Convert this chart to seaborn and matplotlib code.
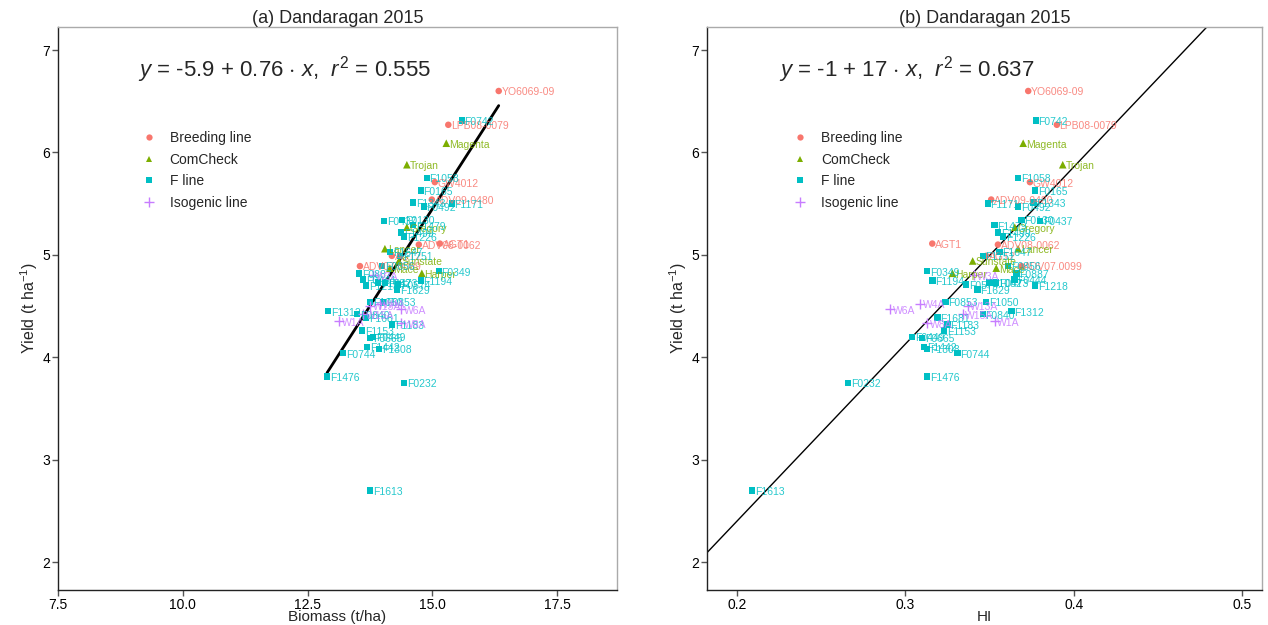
import numpy as np
import pandas as pd
import matplotlib
matplotlib.use("Agg")
import matplotlib.pyplot as plt
import seaborn as sns
from matplotlib.lines import Line2D

# ---------------- data ----------------
genotype = ["YO6069-09", "LPB08-0079", "GW4012", "ADV09-0480", "ADV08-0062", "AGT1", "AGT2", "ADV07.0099",
            "Magenta", "Trojan", "Gregory", "Lancer", "Sunstate", "Mace", "Harper",
            "F0742", "F1058", "F0165", "F1171", "F1343", "F0492", "F0130", "F0437", "F1479", "F1499",
            "F1226", "F1647", "F1751", "F0856", "F0887", "F0444", "F0349", "F1194", "F1218", "F0574",
            "F1629", "F1082", "F0473", "F1050", "F0853", "F1312", "F0840", "F1681", "F1183", "F1153",
            "F0449", "F0665", "F1442", "F1308", "F0744", "F1476", "F0232", "F1613",
            "W1A", "W3A", "W4A", "W6A", "W8A", "W13A", "W15A"]
group = (["Breeding line"] * 8 + ["ComCheck"] * 7 + ["F line"] * 38 + ["Isogenic line"] * 7)
biomass = [16.33, 15.32, 15.05, 14.99, 14.73, 15.15, 14.19, 13.55,
           15.28, 14.49, 14.49, 14.05, 14.33, 14.15, 14.79,
           15.59, 14.89, 14.77, 15.39, 14.61, 14.83, 14.39, 14.03, 14.61, 14.37,
           14.43, 14.15, 14.35, 13.99, 13.53, 13.61, 15.13, 14.77, 13.67, 14.31,
           14.29, 13.91, 14.05, 13.75, 14.01, 12.91, 13.49, 13.67, 14.19, 13.59,
           13.81, 13.75, 13.69, 13.93, 13.21, 12.89, 14.43, 13.75,
           13.13, 13.81, 13.95, 14.37, 14.37, 13.75, 13.61]
hi = [0.373, 0.390, 0.374, 0.351, 0.355, 0.316, 0.348, 0.369,
      0.370, 0.3935, 0.365, 0.367, 0.340, 0.354, 0.328,
      0.3775, 0.367, 0.377, 0.349, 0.376, 0.367, 0.369, 0.380, 0.353, 0.355,
      0.358, 0.356, 0.346, 0.361, 0.366, 0.365, 0.313, 0.316, 0.377, 0.336,
      0.343, 0.350, 0.354, 0.348, 0.324, 0.363, 0.346, 0.319, 0.325, 0.323,
      0.304, 0.310, 0.311, 0.313, 0.331, 0.313, 0.266, 0.209,
      0.353, 0.341, 0.309, 0.291, 0.313, 0.337, 0.334]
yield_t = [6.60, 6.27, 5.71, 5.54, 5.10, 5.11, 4.99, 4.89,
           6.09, 5.88, 5.27, 5.06, 4.94, 4.87, 4.82,
           6.31, 5.75, 5.63, 5.50, 5.51, 5.47, 5.34, 5.33, 5.29, 5.22,
           5.18, 5.03, 4.99, 4.89, 4.82, 4.76, 4.84, 4.75, 4.70, 4.71,
           4.66, 4.73, 4.73, 4.54, 4.54, 4.45, 4.42, 4.39, 4.32, 4.26,
           4.20, 4.19, 4.10, 4.08, 4.04, 3.81, 3.75, 2.70,
           4.35, 4.80, 4.52, 4.47, 4.33, 4.50, 4.42]

groups = ["Breeding line", "ComCheck", "F line", "Isogenic line"]
colors = ["#F8766D", "#7CAE00", "#00BFC4", "#C77CFF"]
titles = ["(a) Dandaragan 2015", "(b) Dandaragan 2015"]
equations = [r"$y$ = -5.9 + 0.76 $\cdot$ $x$,  $r^2$ = 0.555",
             r"$y$ = -1 + 17 $\cdot$ $x$,  $r^2$ = 0.637"]
xlabels = ["Biomass (t/ha)", "HI"]

df = pd.DataFrame({"Genotype": genotype, "Group": group, "Biomass": biomass,
                   "HI": hi, "Yield": yield_t})

# ---------------- style ----------------
sns.set_style("white")
plt.rcParams["font.family"] = ["Liberation Sans", "DejaVu Sans"]
plt.rcParams["mathtext.fontset"] = "custom"
plt.rcParams["mathtext.rm"] = "Liberation Sans"
plt.rcParams["mathtext.it"] = "Liberation Sans:italic"

fig = plt.figure(figsize=(12.68, 6.25), dpi=100)
axA = fig.add_axes([0.0457, 0.056, 0.4409, 0.9008])
axB = fig.add_axes([0.5576, 0.056, 0.4377, 0.9008])

pal = dict(zip(groups, colors))
mk = {"Breeding line": "o", "ComCheck": "^", "F line": "s", "Isogenic line": "+"}
sizes = {"Breeding line": 22, "ComCheck": 30, "F line": 22, "Isogenic line": 60}
YLIM = (1.727, 7.225)

panels = [(axA, "Biomass", (7.5, 18.7), [7.5, 10.0, 12.5, 15.0, 17.5], ["7.5", "10.0", "12.5", "15.0", "17.5"]),
          (axB, "HI", (0.1822, 0.5119), [0.2, 0.3, 0.4, 0.5], ["0.2", "0.3", "0.4", "0.5"])]

for i, (ax, xcol, xlim, xt, xtl) in enumerate(panels):
    ax.set_xlim(*xlim)
    ax.set_ylim(*YLIM)
    # regression line
    if i == 0:
        sns.regplot(data=df, x=xcol, y="Yield", scatter=False, ci=None, truncate=True,
                    color="black", line_kws={"lw": 2.0}, ax=ax)
    else:
        sns.regplot(data=df, x=xcol, y="Yield", scatter=False, ci=None, truncate=False,
                    color="black", line_kws={"lw": 1.0}, ax=ax)
    # points
    for g in groups:
        sub = df[df["Group"] == g]
        sns.scatterplot(data=sub, x=xcol, y="Yield", color=pal[g], marker=mk[g],
                        s=sizes[g], linewidth=(1.0 if g == "Isogenic line" else 0),
                        edgecolor=(pal[g] if g == "Isogenic line" else "none"),
                        ax=ax, legend=False, zorder=3)
    # labels
    for _, r in df.iterrows():
        ax.annotate(r["Genotype"], (r[xcol], r["Yield"]), xytext=(2, -1),
                    textcoords="offset points", ha="left", va="center",
                    fontsize=7.5, color=pal[r["Group"]], alpha=0.85, zorder=4)
    ax.set_xlim(*xlim)
    ax.set_ylim(*YLIM)
    ax.set_xticks(xt)
    ax.set_xticklabels(xtl)
    ax.set_yticks([2, 3, 4, 5, 6, 7])
    ax.tick_params(axis="both", direction="out", length=4, width=1, color="#555555",
                   labelsize=10, labelcolor="black", pad=1.5, bottom=True, left=True)
    for s in ["top", "right"]:
        ax.spines[s].set_color("#AAAAAA")
        ax.spines[s].set_linewidth(1)
    for s in ["left", "bottom"]:
        ax.spines[s].set_color("#222222")
        ax.spines[s].set_linewidth(1)
    ax.set_xlabel(xlabels[i], fontsize=11, labelpad=-1)
    ax.set_ylabel(r"Yield (t ha$^{-1}$)", fontsize=11.5, labelpad=2)
    ax.set_title(titles[i], fontsize=13, pad=3)
    ax.text(0.405 if i == 0 else 0.36, 0.925, equations[i], transform=ax.transAxes,
            ha="center", va="center", fontsize=16)
    handles = [Line2D([], [], linestyle="none", marker=mk[g], color=pal[g],
                      markersize=(4.5 if g != "Isogenic line" else 7),
                      markeredgewidth=(1 if g == "Isogenic line" else 0))
               for g in groups]
    leg = ax.legend(handles, groups, loc="upper left",
                    bbox_to_anchor=(0.135 if i == 0 else 0.14, 0.825),
                    frameon=False, fontsize=10, handlelength=1.4, handletextpad=0.8,
                    labelspacing=0.55, borderaxespad=0)

fig.savefig("out.png", dpi=100)
